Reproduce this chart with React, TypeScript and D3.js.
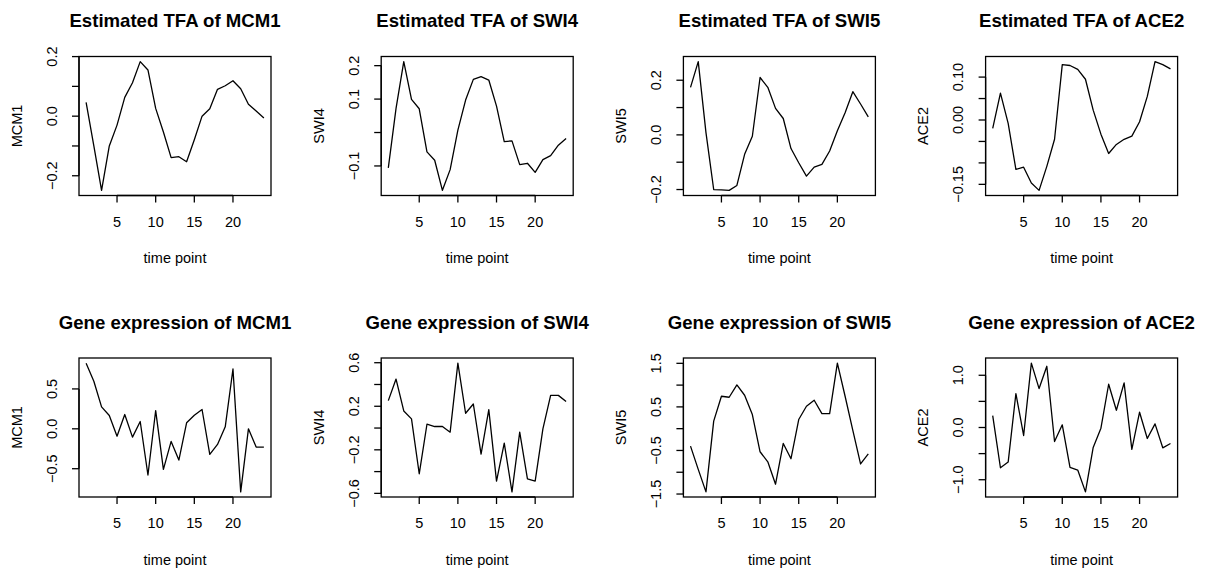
import React from "react";
import * as d3 from "d3";

// time points on the x axis
const timePoints = [1, 2, 3, 4, 5, 6, 7, 8, 9, 10, 11, 12, 13, 14, 15, 16, 17, 18, 19, 20, 21, 22, 23, 24];
const xTicks = [5, 10, 15, 20];

// estimated transcription factor activity
const tfaMCM1 = [0.046, -0.1, -0.249, -0.1, -0.03, 0.063, 0.112, 0.183, 0.155, 0.026, -0.053, -0.139, -0.136, -0.153, -0.079, 0.0, 0.025, 0.09, 0.102, 0.119, 0.092, 0.04, 0.017, -0.006];
const tfaSWI4 = [-0.106, 0.072, 0.212, 0.099, 0.071, -0.058, -0.083, -0.173, -0.111, 0.007, 0.097, 0.159, 0.167, 0.157, 0.079, -0.027, -0.025, -0.096, -0.092, -0.119, -0.081, -0.069, -0.038, -0.018];
const tfaSWI5 = [0.174, 0.268, 0.008, -0.2, -0.201, -0.203, -0.185, -0.071, -0.005, 0.21, 0.174, 0.097, 0.06, -0.05, -0.102, -0.151, -0.118, -0.108, -0.059, 0.015, 0.081, 0.158, 0.113, 0.066];
const tfaACE2 = [-0.0195, 0.0625, -0.008, -0.115, -0.11, -0.147, -0.164, -0.108, -0.045, 0.129, 0.127, 0.118, 0.095, 0.023, -0.033, -0.078, -0.057, -0.045, -0.0375, -0.004, 0.055, 0.136, 0.129, 0.119];

// gene expression
const exprMCM1 = [0.823, 0.596, 0.275, 0.167, -0.092, 0.179, -0.104, 0.092, -0.579, 0.229, -0.508, -0.158, -0.392, 0.075, 0.171, 0.242, -0.321, -0.196, 0.025, 0.75, -0.79, 0.0, -0.229, -0.229];
const exprSWI4 = [0.252, 0.45, 0.157, 0.084, -0.42, 0.035, 0.014, 0.014, -0.038, 0.596, 0.136, 0.221, -0.24, 0.169, -0.487, -0.139, -0.586, -0.038, -0.466, -0.487, -0.008, 0.3, 0.3, 0.243];
const exprSWI5 = [-0.4, -0.935, -1.45, 0.172, 0.744, 0.721, 1.004, 0.767, 0.324, -0.53, -0.76, -1.275, -0.34, -0.69, 0.21, 0.515, 0.653, 0.347, 0.347, 1.504, 0.744, -0.04, -0.81, -0.576];
const exprACE2 = [0.229, -0.771, -0.662, 0.65, -0.153, 1.232, 0.745, 1.172, -0.268, 0.051, -0.764, -0.815, -1.232, -0.382, -0.013, 0.828, 0.331, 0.854, -0.42, 0.293, -0.21, 0.07, -0.389, -0.306];

// y ticks and which of them carry a label
const yTicksTfaMCM1 = [-0.2, -0.1, 0.0, 0.1, 0.2];
const yLabelsTfaMCM1 = ["-0.2", "", "0.0", "", "0.2"];
const yTicksTfaSWI4 = [-0.1, 0.0, 0.1, 0.2];
const yLabelsTfaSWI4 = ["-0.1", "", "0.1", "0.2"];
const yTicksTfaSWI5 = [-0.2, -0.1, 0.0, 0.1, 0.2];
const yLabelsTfaSWI5 = ["-0.2", "", "0.0", "", "0.2"];
const yTicksTfaACE2 = [-0.15, -0.1, -0.05, 0.0, 0.05, 0.1];
const yLabelsTfaACE2 = ["-0.15", "", "", "0.00", "", "0.10"];
const yTicksExprMCM1 = [-0.5, 0.0, 0.5];
const yLabelsExprMCM1 = ["-0.5", "0.0", "0.5"];
const yTicksExprSWI4 = [-0.6, -0.4, -0.2, 0.0, 0.2, 0.4, 0.6];
const yLabelsExprSWI4 = ["-0.6", "", "-0.2", "", "0.2", "", "0.6"];
const yTicksExprSWI5 = [-1.5, -1.0, -0.5, 0.0, 0.5, 1.0, 1.5];
const yLabelsExprSWI5 = ["-1.5", "", "-0.5", "", "0.5", "", "1.5"];
const yTicksExprACE2 = [-1.0, -0.5, 0.0, 0.5, 1.0];
const yLabelsExprACE2 = ["-1.0", "", "0.0", "", "1.0"];

const panels = [
  { title: "Estimated TFA of MCM1", ylab: "MCM1", values: tfaMCM1, ticks: yTicksTfaMCM1, labels: yLabelsTfaMCM1 },
  { title: "Estimated TFA of SWI4", ylab: "SWI4", values: tfaSWI4, ticks: yTicksTfaSWI4, labels: yLabelsTfaSWI4 },
  { title: "Estimated TFA of SWI5", ylab: "SWI5", values: tfaSWI5, ticks: yTicksTfaSWI5, labels: yLabelsTfaSWI5 },
  { title: "Estimated TFA of ACE2", ylab: "ACE2", values: tfaACE2, ticks: yTicksTfaACE2, labels: yLabelsTfaACE2 },
  { title: "Gene expression of MCM1", ylab: "MCM1", values: exprMCM1, ticks: yTicksExprMCM1, labels: yLabelsExprMCM1 },
  { title: "Gene expression of SWI4", ylab: "SWI4", values: exprSWI4, ticks: yTicksExprSWI4, labels: yLabelsExprSWI4 },
  { title: "Gene expression of SWI5", ylab: "SWI5", values: exprSWI5, ticks: yTicksExprSWI5, labels: yLabelsExprSWI5 },
  { title: "Gene expression of ACE2", ylab: "ACE2", values: exprACE2, ticks: yTicksExprACE2, labels: yLabelsExprACE2 },
];

const W = 1208;
const H = 573;
const colW = 302.2;
const rowH = 301.5;
const box = { left: 79, right: 271, top: 56.5, bottom: 195.5 };
const font = "'Liberation Sans', Arial, Helvetica, sans-serif";
const tick = 7;

// R style 4% padding of the data range
function pad(ext: [number, number]): [number, number] {
  const r = ext[1] - ext[0];
  return [ext[0] - 0.04 * r, ext[1] + 0.04 * r];
}

function Panel({ p, col, row }: any) {
  const x = d3.scaleLinear().domain(pad([timePoints[0], timePoints[timePoints.length - 1]])).range([box.left, box.right]);
  const y = d3.scaleLinear().domain(pad(d3.extent(p.values) as [number, number])).range([box.bottom, box.top]);
  const line = d3
    .line<number>()
    .x((d, i) => x(timePoints[i]))
    .y((d) => y(d));
  const fmt = (s: string) => s.replace("-", "\u2212");
  const midY = (box.top + box.bottom) / 2;
  return (
    <g transform={`translate(${col * colW},${row * rowH})`} fontFamily={font}>
      <text x={(box.left + box.right) / 2} y={27} textAnchor="middle" fontWeight="bold" fontSize={18.6}>
        {p.title}
      </text>
      <path d={line(p.values) || ""} fill="none" stroke="#000" strokeWidth={1.3} strokeLinejoin="round" />
      <rect x={box.left} y={box.top} width={box.right - box.left} height={box.bottom - box.top} fill="none" stroke="#000" strokeWidth={1.3} />
      {/* x axis */}
      <line x1={x(xTicks[0])} x2={x(xTicks[xTicks.length - 1])} y1={box.bottom} y2={box.bottom} stroke="#000" strokeWidth={1.3} />
      {xTicks.map((t) => (
        <g key={t}>
          <line x1={x(t)} x2={x(t)} y1={box.bottom} y2={box.bottom + tick} stroke="#000" strokeWidth={1.3} />
          <text x={x(t)} y={226.8} textAnchor="middle" fontSize={14.5}>
            {t}
          </text>
        </g>
      ))}
      <text x={(box.left + box.right) / 2} y={263} textAnchor="middle" fontSize={14.5}>
        time point
      </text>
      {/* y axis */}
      <line x1={box.left} x2={box.left} y1={y(p.ticks[0])} y2={y(p.ticks[p.ticks.length - 1])} stroke="#000" strokeWidth={1.3} />
      {p.ticks.map((t: number, i: number) => (
        <g key={i}>
          <line x1={box.left - tick} x2={box.left} y1={y(t)} y2={y(t)} stroke="#000" strokeWidth={1.3} />
          {p.labels[i] && (
            <text transform={`translate(51.7,${y(t)}) rotate(-90)`} dy="0.35em" textAnchor="middle" fontSize={14.5}>
              {fmt(p.labels[i])}
            </text>
          )}
        </g>
      ))}
      <text transform={`translate(16.7,${midY}) rotate(-90)`} dy="0.35em" textAnchor="middle" fontSize={14.5}>
        {p.ylab}
      </text>
    </g>
  );
}

export default function App() {
  return (
    <svg width={W} height={H} style={{ position: "absolute", left: 0, top: 0, background: "#fff" }}>
      <rect width={W} height={H} fill="#fff" />
      {panels.map((p, i) => (
        <Panel key={i} p={p} col={i % 4} row={Math.floor(i / 4)} />
      ))}
    </svg>
  );
}
